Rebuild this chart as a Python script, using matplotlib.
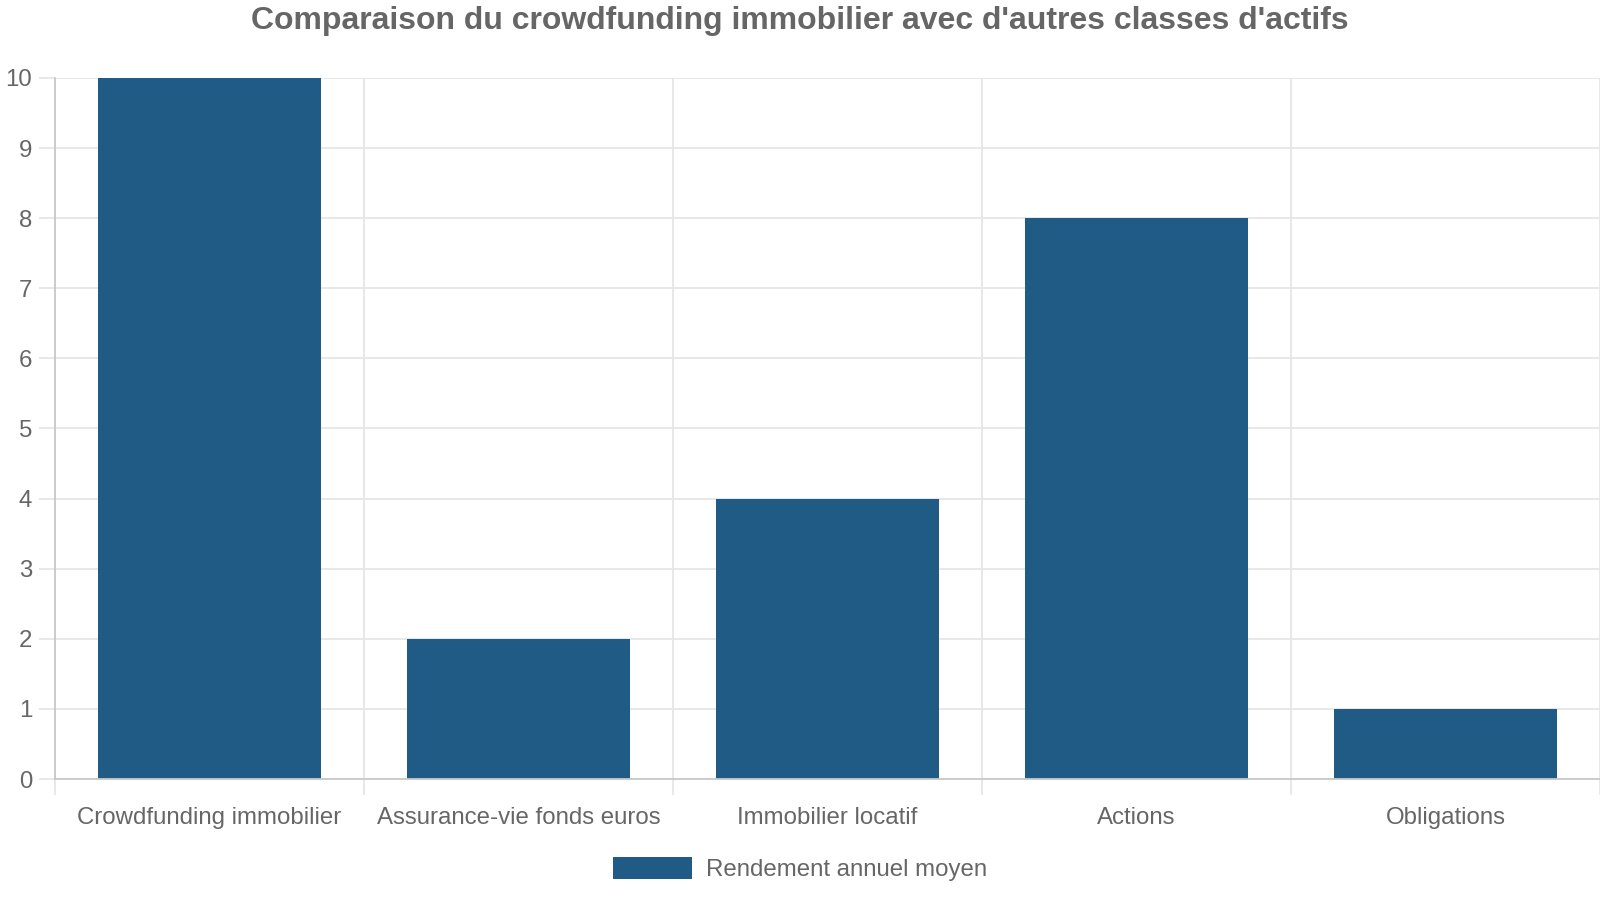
import numpy as np
import matplotlib
matplotlib.use('Agg')
import matplotlib.pyplot as plt

categories=['Crowdfunding immobilier','Assurance-vie fonds euros','Immobilier locatif','Actions','Obligations']
rendement=[10,2,4,8,1]
serie_label='Rendement annuel moyen'
titre="Comparaison du crowdfunding immobilier avec d'autres classes d'actifs"

plt.rcParams['font.family']=['Liberation Sans','DejaVu Sans']
txt='#666666'
grid='#e6e6e6'
axc='#c8c8c8'
bar_c='#1f5b85'

fig=plt.figure(figsize=(16,9),dpi=100)
ax=fig.add_axes([55/1600,1-779/900,1-55/1600,(779-78)/900])

x=np.arange(len(categories))
ax.bar(x,rendement,width=0.72,color=bar_c,label=serie_label,zorder=3)

ax.set_xlim(-0.5,len(categories)-0.5)
ax.set_ylim(0,10)
ax.set_yticks(range(0,11))
ax.set_xticks(x)
ax.set_xticklabels(categories)
ax.set_xticks(np.arange(-0.5,len(categories),1.0),minor=True)

ax.grid(axis='y',color=grid,linewidth=1.3,zorder=0)
ax.grid(axis='x',which='minor',color=grid,linewidth=1.3,zorder=0)
ax.tick_params(axis='x',which='major',length=0,pad=20.5,labelsize=17.3,labelcolor=txt)
ax.tick_params(axis='x',which='minor',length=11.5,width=1.3,color=grid)
ax.tick_params(axis='y',length=11.5,width=1.3,color=grid,pad=5,labelsize=17.3,labelcolor=txt)

for s in ['top','right']:
	ax.spines[s].set_visible(False)
for s in ['left','bottom']:
	ax.spines[s].set_color(axc)
	ax.spines[s].set_linewidth(1.3)
	ax.spines[s].set_zorder(4)

fig.text(0.5,1-21/900,titre,ha='center',va='center',fontsize=23,fontweight='bold',color=txt)

leg=ax.legend(loc='center',bbox_to_anchor=(0.5,1-869/900),bbox_transform=fig.transFigure,
	frameon=False,fontsize=17.3,handlelength=3.3,handleheight=1.0,handletextpad=0.55)
for t in leg.get_texts():
	t.set_color(txt)

fig.savefig('out.png',dpi=100)
